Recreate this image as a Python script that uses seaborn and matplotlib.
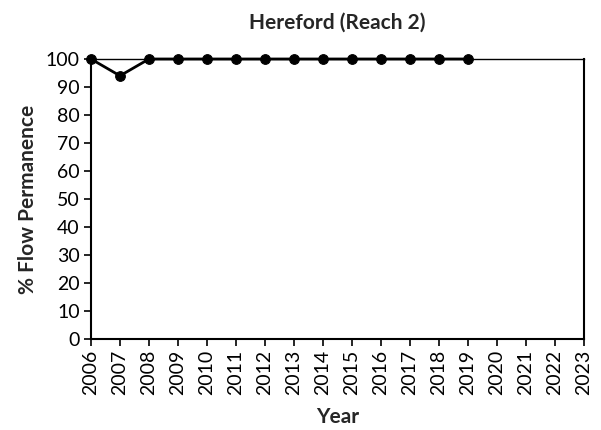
"""
plot.py : flow permanence for Hereford (Reach 2)
"""

import matplotlib
matplotlib.use("Agg")
import matplotlib.pyplot as plt
import pandas as pd
import seaborn as sns

years = [2006, 2007, 2008, 2009, 2010, 2011, 2012, 2013, 2014, 2015, 2016, 2017, 2018, 2019]
permanence = [100, 94, 100, 100, 100, 100, 100, 100, 100, 100, 100, 100, 100, 100]
tick_years = list(range(2006, 2024))

sns.set_style("ticks")
plt.rcParams['font.family'] = ['Lato', 'DejaVu Sans']

df = pd.DataFrame({'year': years, 'pct': permanence})

fig = plt.figure(figsize=(6.01, 4.30), dpi=100)
ax = fig.add_axes([0.1514, 0.2116, 0.8203, 0.6512])

sns.lineplot(data=df, x='year', y='pct', ax=ax, color='black', linewidth=2,
             marker='o', markersize=7, markeredgecolor='black', clip_on=False)

ax.set_xlim(2006, 2023)
ax.set_ylim(0, 100)
ax.set_xticks(tick_years)
ax.set_xticklabels([str(y) for y in tick_years], rotation=90)
ax.set_yticks(range(0, 101, 10))
ax.tick_params(axis='both', labelsize=14, direction='out', length=5, width=1.2,
               colors='black', pad=3)

for side in ['left', 'bottom', 'right']:
    ax.spines[side].set_linewidth(1.5)
    ax.spines[side].set_color('black')
ax.spines['top'].set_linewidth(1.0)
ax.spines['top'].set_color('black')

ax.set_title('Hereford (Reach 2)', fontsize=15, fontweight='bold', pad=22)
ax.set_xlabel('Year', fontsize=15, fontweight='bold', labelpad=8)
ax.set_ylabel('% Flow Permanence', fontsize=15, fontweight='bold', labelpad=6)

fig.savefig('out.png', dpi=100)
